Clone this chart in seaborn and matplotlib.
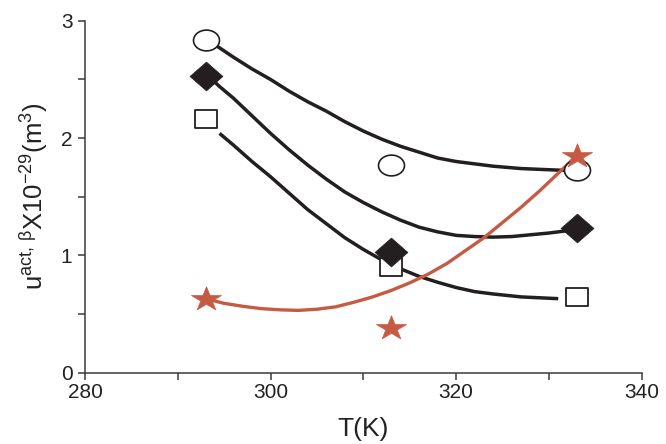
import numpy as np
import pandas as pd
import matplotlib
matplotlib.use("Agg")
import matplotlib.pyplot as plt
import seaborn as sns
from matplotlib.markers import MarkerStyle
from matplotlib.transforms import Affine2D
from matplotlib.ticker import MultipleLocator

# measured points
T_points = [293, 313, 333]
circle_y = [2.84, 1.77, 1.73]
diamond_y = [2.53, 1.03, 1.23]
square_y = [2.16, 0.90, 0.64]
star_y = [0.63, 0.38, 1.85]

# fitted curves
circle_fit_T = [293, 294.5, 296, 298, 300, 302, 304, 306, 308, 310, 312, 314, 316, 318, 320, 322, 324, 327, 330, 333]
circle_fit_y = [2.85, 2.77, 2.69, 2.59, 2.50, 2.40, 2.31, 2.23, 2.14, 2.06, 1.99, 1.93, 1.88, 1.83, 1.80, 1.78, 1.76, 1.74, 1.73, 1.72]

diamond_fit_T = [293, 294.5, 296, 298, 300, 302, 304, 306, 308, 310, 312, 314, 316, 318, 320, 322, 324, 326, 328, 330, 333]
diamond_fit_y = [2.55, 2.44, 2.34, 2.19, 2.04, 1.90, 1.77, 1.65, 1.54, 1.45, 1.37, 1.30, 1.24, 1.20, 1.17, 1.16, 1.155, 1.16, 1.175, 1.19, 1.22]

square_fit_T = [294.5, 296, 298, 300, 302, 304, 306, 308, 310, 312, 314, 316, 318, 320, 322, 324, 327, 331]
square_fit_y = [2.04, 1.94, 1.80, 1.67, 1.53, 1.39, 1.27, 1.15, 1.05, 0.96, 0.885, 0.82, 0.77, 0.725, 0.69, 0.67, 0.645, 0.63]

star_fit_T = [293, 295, 297, 299, 301, 303, 305, 307, 309, 311, 313, 315, 317, 319, 321, 323, 325, 327, 329, 331, 333]
star_fit_y = [0.63, 0.59, 0.565, 0.545, 0.535, 0.53, 0.54, 0.56, 0.60, 0.645, 0.70, 0.765, 0.84, 0.93, 1.04, 1.15, 1.28, 1.41, 1.55, 1.70, 1.85]

BLACK = "#231F20"
RED = "#C65A43"

sns.set_theme(style="ticks")
plt.rcParams["font.family"] = ["Liberation Sans", "DejaVu Sans"]
plt.rcParams["mathtext.fontset"] = "custom"
plt.rcParams["mathtext.rm"] = "Liberation Sans"
plt.rcParams["mathtext.it"] = "Liberation Sans:italic"
plt.rcParams["mathtext.bf"] = "Liberation Sans:bold"


def stretched(marker, sx):
    ms = MarkerStyle(marker)
    path = ms.get_path().transformed(ms.get_transform())
    return path.transformed(Affine2D().scale(sx, 1.0))


fig = plt.figure(figsize=(6.66, 4.44), dpi=100)
ax = fig.add_axes([0.1276, 0.161, 0.836, 0.792])

# curves
line_kw = dict(ax=ax, sort=False, estimator=None, solid_joinstyle="round", solid_capstyle="butt")
sns.lineplot(x=circle_fit_T, y=circle_fit_y, color=BLACK, linewidth=2.5, **line_kw)
sns.lineplot(x=diamond_fit_T, y=diamond_fit_y, color=BLACK, linewidth=2.5, **line_kw)
sns.lineplot(x=square_fit_T, y=square_fit_y, color=BLACK, linewidth=2.5, **line_kw)
sns.lineplot(x=star_fit_T, y=star_fit_y, color=RED, linewidth=2.4, **line_kw)

# markers
sns.scatterplot(x=T_points, y=circle_y, ax=ax, marker=stretched("o", 1.25), s=350,
                color="white", edgecolor=BLACK, linewidth=1.2, zorder=3)
sns.scatterplot(x=T_points, y=square_y, ax=ax, marker=stretched("s", 1.16), s=250,
                color="white", edgecolor=BLACK, linewidth=1.3, zorder=3)
sns.scatterplot(x=T_points, y=diamond_y, ax=ax, marker=stretched("D", 1.14), s=560,
                color=BLACK, edgecolor=BLACK, linewidth=0.5, zorder=4)
sns.scatterplot(x=T_points, y=star_y, ax=ax, marker=stretched("*", 1.24), s=470,
                color=RED, edgecolor=RED, linewidth=0.5, zorder=5)

ax.set_xlim(280, 340)
ax.set_ylim(0, 3)
ax.xaxis.set_major_locator(MultipleLocator(20))
ax.xaxis.set_minor_locator(MultipleLocator(10))
ax.yaxis.set_major_locator(MultipleLocator(1))
ax.yaxis.set_minor_locator(MultipleLocator(0.5))

sns.despine(ax=ax)
for side in ["left", "bottom"]:
    ax.spines[side].set_color("#3a3a3a")
    ax.spines[side].set_linewidth(1.1)

ax.tick_params(which="both", direction="out", length=5, width=1.1, color="#3a3a3a")
ax.tick_params(axis="x", labelsize=15, pad=2.5, labelcolor="#222222")
ax.tick_params(axis="y", labelsize=15, pad=4, labelcolor="#222222")

ax.set_xlabel("T(K)", fontsize=19, color="#222222", labelpad=11)
ax.set_ylabel(r"u$^{\mathrm{act,\,β}}$X10$^{-29}$(m$^{3}$)", fontsize=18.5,
              color="#222222", labelpad=8)

plt.savefig("out.png", dpi=100)
plt.close()
